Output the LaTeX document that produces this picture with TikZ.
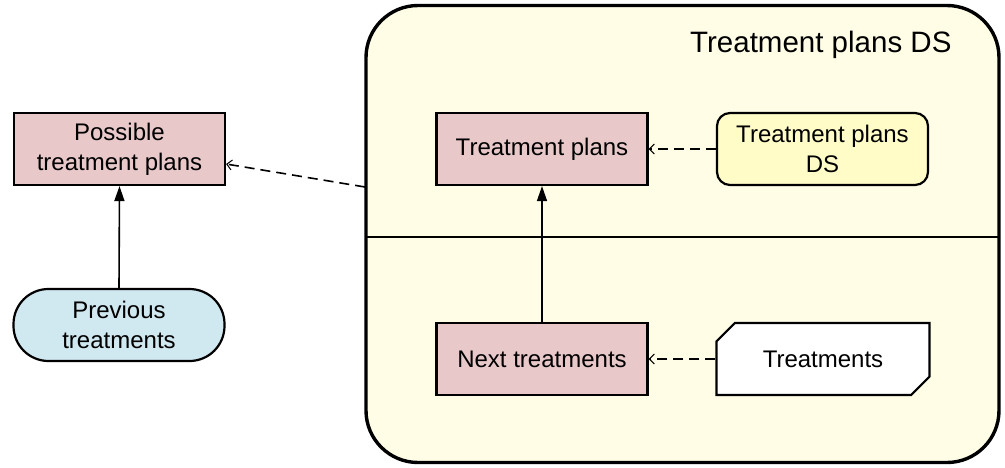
\documentclass[tikz,border=0pt]{standalone}
\usepackage{fontspec}
\setmainfont{Liberation Sans}
\usepackage{tikz}
\usetikzlibrary{arrows.meta,shapes.misc}
\definecolor{rosebox}{RGB}{233,200,202}
\definecolor{skybox}{RGB}{208,232,240}
\definecolor{creamfill}{RGB}{255,253,230}
\definecolor{lemonbox}{RGB}{255,252,200}
\tikzset{%
    procbox/.style={%
        draw, line width=2.2pt, fill=rosebox, align=center,
        minimum width=211pt, minimum height=72pt, inner sep=0pt,
        font=\fontsize{24}{30}\selectfont
    },
    usebar/.style={%
        dashed, dash pattern=on 10pt off 6pt, line width=1.6pt,
        -{Straight Barb[length=5pt,width=10pt,line width=1pt]}
    }
}
\begin{document}
\begin{tikzpicture}[x=1pt,y=-1pt]
    \useasboundingbox (0,0) rectangle (1005,467);
%-----------------------------------------------
    \node[draw, line width=3.4pt, fill=creamfill, rounded corners=52pt,
          minimum width=633pt, minimum height=457pt] (ds) at (682.5,234) {};
    \draw[line width=1.8pt] (365,237) -- (1000,237);
    \node[anchor=base east, font=\fontsize{29.5}{32}\selectfont] (dstitle) at (955,52) {Treatment plans DS};
%-----------------------------------------------
    \node[procbox] (poss) at (119.5,149) {Possible\\treatment plans};
    \node[procbox, fill=skybox, rounded corners=35pt] (prev) at (119,325) {Previous\\treatments};
    \node[procbox] (plans) at (542,149) {Treatment plans};
    \node[procbox] (next) at (542,359) {Next treatments};
    \node[procbox, fill=lemonbox, rounded corners=13pt] (plansds) at (822.5,149) {Treatment plans\\DS};
    \node[procbox, fill=white, chamfered rectangle, chamfered rectangle corners={north west,south east},
          chamfered rectangle xsep=10pt, chamfered rectangle ysep=10pt,
          minimum width=213pt] (treat) at (823,359) {Treatments};
%-----------------------------------------------
    \draw[line width=1.6pt,-{Triangle[length=15pt,width=10pt]}] (prev.north) -- (poss.south);
    \draw[line width=1.6pt,-{Triangle[length=15pt,width=10pt]}] (next.north) -- (plans.south);
    \draw[usebar] (plansds.west) -- (plans.east);
    \draw[usebar] (treat.west) -- (next.east);
    \coordinate (dsport) at (365,187);
    \draw[usebar] (dsport) -- ([yshift=-15pt]poss.east);
\end{tikzpicture}
\end{document}
